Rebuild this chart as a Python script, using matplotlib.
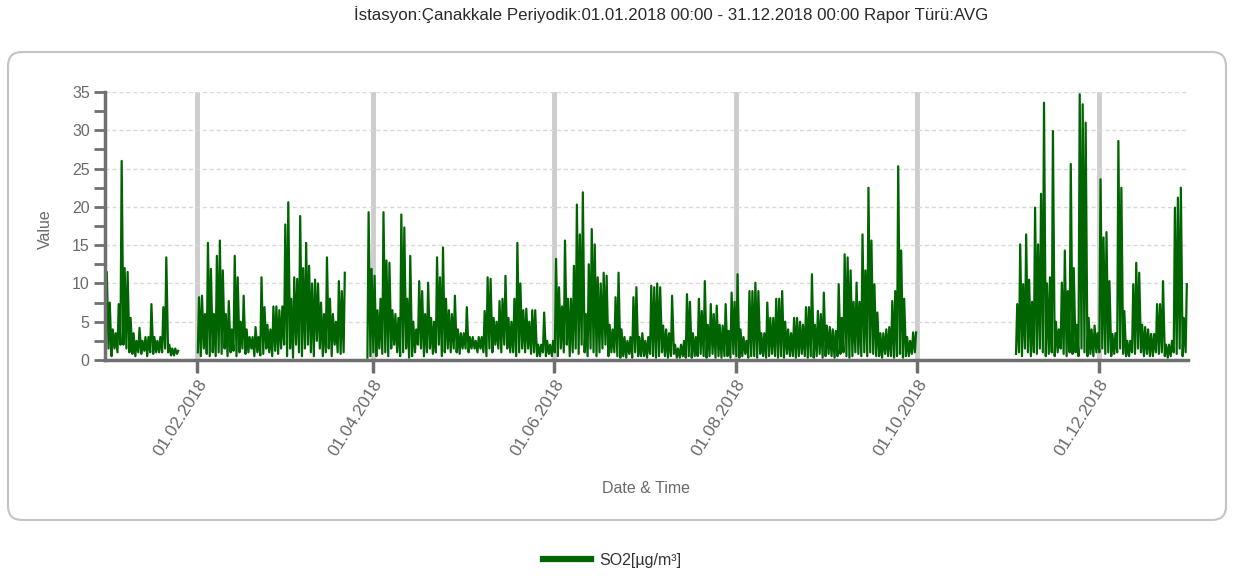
import numpy as np
import matplotlib
matplotlib.use('Agg')
import matplotlib.pyplot as plt
import matplotlib.dates as mdates
from matplotlib.patches import FancyBboxPatch
from matplotlib.transforms import IdentityTransform
from datetime import datetime

nan = np.nan

# SO2 [µg/m³], daily high / low of the hourly series
jan_high = [11.5, 7.5, 4.0, 3.5, 7.3, 26.0, 12.0, 11.5, 5.5, 3.5, 2.5, 4.2, 2.5, 3.0, 3.0, 7.3,
            3.0, 2.5, 3.0, 6.9, 13.4, 2.0, 1.5, 1.5, 1.2, nan, nan, nan, nan, nan, nan]
jan_low = [2.5, 1.5, 0.5, 1.5, 1.0, 2.0, 2.0, 1.5, 1.0, 0.8, 0.5, 1.0, 0.8, 1.2, 0.5, 1.0,
           0.8, 1.0, 1.0, 1.0, 1.5, 1.0, 0.6, 0.6, 0.8, nan, nan, nan, nan, nan, nan]
feb_high = [8.2, 8.4, 6.0, 15.3, 11.9, 6.0, 13.6, 15.6, 11.7, 6.0, 7.7, 4.0, 13.6, 10.8,
            5.0, 8.4, 4.0, 3.0, 3.0, 4.3, 3.0, 10.8, 6.9, 4.6, 4.0, 7.0, 7.0, 6.5]
feb_low = [1.0, 0.5, 1.5, 0.8, 0.5, 1.0, 0.5, 1.0, 0.8, 1.5, 0.5, 1.0, 1.2, 0.5,
           1.0, 1.5, 0.8, 1.0, 1.5, 0.5, 1.0, 0.6, 0.8, 1.5, 1.0, 0.5, 1.2, 0.8]
mar_high = [7.0, 17.7, 20.6, 8.0, 10.8, 10.6, 18.8, 12.0, 15.3, 12.3, 10.0, 10.5, 10.0, 7.5,
            6.0, 13.4, 8.0, 6.0, 5.0, 10.3, 9.0, 11.4, nan, nan, nan, nan, nan, nan, nan,
            19.3, 11.9]
mar_low = [1.5, 2.0, 0.5, 1.5, 0.3, 2.0, 1.0, 0.5, 1.5, 2.0, 1.0, 0.5, 2.5, 1.5,
           0.5, 1.0, 1.5, 0.5, 2.0, 1.0, 0.8, 1.0, nan, nan, nan, nan, nan, nan, nan,
           0.3, 0.5]
apr_high = [11.0, 6.5, 8.0, 19.3, 13.0, 12.7, 6.5, 6.0, 5.5, 19.0, 17.3, 8.0, 13.6, 5.0, 4.0,
            10.3, 9.0, 6.0, 10.1, 5.5, 5.0, 13.4, 10.8, 14.7, 8.0, 6.5, 6.0, 8.4, 4.0, 3.5]
apr_low = [1.0, 0.5, 1.5, 0.8, 1.0, 0.5, 1.5, 2.0, 1.0, 0.5, 1.0, 1.5, 0.3, 0.5, 1.0,
           2.0, 1.5, 0.5, 1.0, 1.5, 0.8, 1.0, 2.0, 0.5, 1.0, 1.5, 1.0, 1.5, 1.0, 0.8]
may_high = [3.5, 6.9, 3.0, 3.0, 2.5, 3.0, 3.0, 6.4, 10.8, 10.6, 5.5, 5.0, 7.7, 8.0, 11.0, 5.5,
            5.0, 8.0, 15.3, 10.0, 6.5, 6.7, 5.0, 6.5, 6.5, 2.0, 2.0, 6.2, 2.5, 2.0, 2.5]
may_low = [1.5, 1.5, 1.0, 1.5, 1.5, 1.0, 1.5, 1.0, 0.5, 1.5, 1.0, 2.0, 1.5, 1.0, 2.0, 1.5,
           1.0, 1.0, 0.5, 1.0, 1.5, 1.0, 1.5, 0.8, 1.0, 0.5, 0.5, 1.0, 0.5, 0.8, 0.5]
jun_high = [13.2, 9.5, 7.0, 15.6, 8.0, 8.0, 12.3, 20.3, 16.4, 21.9, 6.0, 12.5, 17.1, 15.1, 10.8,
            10.0, 11.4, 11.0, 4.6, 4.0, 8.2, 11.4, 4.0, 3.0, 2.5, 3.0, 8.2, 9.5, 3.0, 3.5]
jun_low = [1.0, 0.5, 1.5, 1.0, 2.0, 0.5, 1.0, 1.5, 0.8, 2.0, 1.0, 0.5, 1.5, 1.0, 0.5,
           1.0, 1.5, 2.0, 0.5, 1.0, 1.0, 0.5, 0.3, 0.5, 0.3, 0.8, 0.3, 1.0, 0.5, 0.5]
jul_high = [2.5, 3.0, 9.7, 9.5, 10.0, 9.5, 4.5, 4.0, 3.5, 8.4, 2.0, 1.5, 2.0, 2.5, 8.6, 7.6,
            3.5, 3.0, 8.0, 6.4, 10.3, 4.6, 7.3, 6.0, 7.1, 4.6, 4.5, 7.3, 3.8, 8.8, 7.6]
jul_low = [0.5, 0.3, 0.8, 0.5, 0.3, 0.5, 1.0, 0.5, 0.3, 0.5, 0.8, 0.3, 0.3, 0.5, 0.3, 0.5,
           0.3, 0.5, 0.5, 0.8, 0.5, 0.3, 0.5, 0.8, 0.3, 0.5, 0.3, 0.5, 0.5, 0.3, 0.8]
aug_high = [11.2, 4.0, 3.0, 2.5, 9.0, 9.0, 10.1, 9.0, 3.5, 3.5, 7.5, 5.5, 5.5, 8.0, 8.0, 9.0,
            5.0, 4.0, 3.5, 5.5, 5.5, 5.0, 4.6, 6.9, 6.9, 11.2, 4.6, 6.4, 6.0, 8.8, 4.5]
aug_low = [0.5, 0.3, 0.5, 0.8, 0.3, 0.5, 0.5, 0.3, 0.8, 0.5, 0.3, 0.5, 0.8, 0.5, 0.3, 0.5,
           0.3, 0.8, 0.5, 0.5, 0.3, 0.5, 0.8, 0.5, 0.3, 0.5, 0.3, 0.5, 0.8, 0.3, 0.5]
sep_high = [4.3, 4.0, 3.8, 9.9, 5.5, 13.8, 13.4, 11.7, 7.6, 10.1, 7.6, 16.4, 11.7, 22.5, 15.6,
            9.9, 6.2, 3.5, 3.5, 4.0, 4.3, 7.7, 9.0, 25.3, 14.3, 8.0, 3.0, 2.5, 3.6, 3.6]
sep_low = [0.8, 0.5, 0.3, 0.5, 0.8, 1.0, 0.5, 0.3, 0.5, 1.0, 0.8, 0.5, 1.0, 0.5, 1.0,
           0.8, 0.5, 0.5, 0.3, 0.8, 0.5, 0.5, 0.3, 0.5, 0.8, 0.3, 0.5, 0.5, 0.8, 1.0]
oct_high = [nan] * 31
oct_low = [nan] * 31
nov_high = [nan, nan, 7.3, 15.1, 9.9, 16.4, 10.5, 7.6, 19.9, 15.1, 21.7, 33.6, 10.0, 10.8, 29.9,
            5.0, 4.0, 10.1, 14.3, 9.0, 25.6, 12.0, 4.6, 34.7, 33.4, 31.0, 5.5, 4.0, 4.5, 3.5]
nov_low = [nan, nan, 0.8, 1.0, 0.5, 1.5, 1.0, 0.5, 1.0, 0.8, 1.5, 1.0, 0.5, 0.8, 1.0,
           0.5, 1.0, 1.5, 0.8, 0.5, 1.0, 0.8, 1.0, 0.5, 1.5, 1.0, 0.5, 0.8, 0.5, 1.0]
dec_high = [23.6, 16.0, 16.7, 10.3, 3.4, 3.5, 28.6, 22.5, 6.4, 2.5, 2.5, 9.9, 12.7, 11.4, 4.6,
            4.3, 4.0, 3.4, 3.4, 7.3, 7.3, 10.3, 2.0, 2.0, 2.5, 19.9, 21.2, 22.5, 5.5, 9.9, nan]
dec_low = [1.0, 1.5, 0.8, 1.0, 0.5, 0.8, 1.0, 1.5, 0.8, 0.5, 0.5, 1.0, 0.8, 1.5, 1.0,
           0.5, 0.8, 0.5, 0.5, 1.0, 0.8, 1.0, 0.5, 0.3, 0.5, 1.0, 0.8, 1.5, 0.5, 1.0, nan]

title = 'İstasyon:Çanakkale Periyodik:01.01.2018 00:00 - 31.12.2018 00:00 Rapor Türü:AVG'
series_name = 'SO2[µg/m³]'

high = np.array(jan_high + feb_high + mar_high + apr_high + may_high + jun_high +
                jul_high + aug_high + sep_high + oct_high + nov_high + dec_high)
low = np.array(jan_low + feb_low + mar_low + apr_low + may_low + jun_low +
               jul_low + aug_low + sep_low + oct_low + nov_low + dec_low)

t0 = mdates.date2num(datetime(2018, 1, 1))
days = t0 + np.arange(len(high))
# low then high inside each day gives the dense hourly look
x = np.column_stack([days + 0.2, days + 0.6]).ravel()
y = np.column_stack([low, high]).ravel()

plt.rcParams['font.family'] = ['Liberation Sans', 'DejaVu Sans']
grey = '#707070'
txt = '#6a6a6a'

fig = plt.figure(figsize=(12.35, 5.77), dpi=100)
W, H = 1235, 577

# rounded frame round the chart
frame = FancyBboxPatch((8, H - 520), 1218, 468, boxstyle='round,pad=0,rounding_size=14',
                       transform=IdentityTransform(), fc='none', ec='#c4c4c4', lw=1.5)
fig.patches.append(frame)

ax = fig.add_axes([105 / W, 1 - 360 / H, (1188 - 105) / W, (360 - 92) / H])
line, = ax.plot(x, y, color='#006400', lw=1.6, label=series_name)

ax.set_xlim(t0, t0 + 364)
ax.set_ylim(0, 35)
ax.set_yticks(np.arange(0, 36, 5))
ax.set_yticks(np.arange(0, 35, 2.5), minor=True)
ax.xaxis.set_major_locator(mdates.MonthLocator(bymonth=[2, 4, 6, 8, 10, 12]))
ax.xaxis.set_major_formatter(mdates.DateFormatter('%d.%m.%Y'))

for s in ['top', 'right']:
    ax.spines[s].set_visible(False)
for s in ['left', 'bottom']:
    ax.spines[s].set_color(grey)
    ax.spines[s].set_linewidth(2.5)

ax.set_axisbelow(True)
ax.yaxis.grid(True, color='#dadada', ls=(0, (3, 2)), lw=1)
ax.xaxis.grid(True, color='#cdcdcd', lw=3.5)

ax.tick_params(axis='y', which='both', length=8, width=2, color=grey, labelcolor=txt,
               labelsize=11.5, pad=3)
ax.tick_params(axis='x', length=9, width=2.5, color=grey, labelcolor=txt, labelsize=12.5, pad=3)
for lab in ax.get_xticklabels():
    lab.set_rotation(58)
    lab.set_ha('right')
    lab.set_rotation_mode('anchor')

ax.set_ylabel('Value', color=txt, fontsize=11.5)
ax.yaxis.set_label_coords(-0.048, 0.49)
ax.set_xlabel('Date & Time', color=txt, fontsize=11.5)
ax.xaxis.set_label_coords(0.5, -0.451)

fig.text(671 / W, 1 - 15 / H, title, ha='center', va='center', fontsize=12.2, color='#2a2a2a')

leg = fig.legend(handles=[line], loc='center', bbox_to_anchor=(612 / W, 1 - 560 / H),
                 frameon=False, fontsize=11.5, handlelength=3.0, handletextpad=0.5,
                 labelcolor='#333333')
leg.get_lines()[0].set_linewidth(4.5)

fig.savefig('out.png', dpi=100)
